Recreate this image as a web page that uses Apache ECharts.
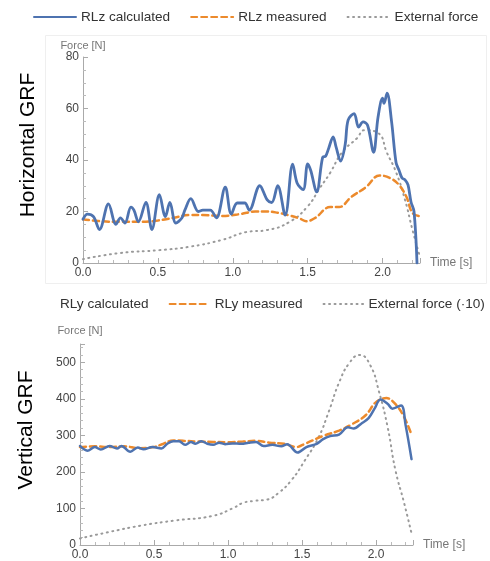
<!DOCTYPE html>
<html>
<head>
<meta charset="utf-8">
<script src="https://cdn.jsdelivr.net/npm/echarts@6/dist/echarts.min.js"></script>
<style>
  html, body { margin: 0; padding: 0; background: #fff; }
  #main { width: 490px; height: 561px; }
</style>
</head>
<body>
<div id="main"></div>
<script>
// Horizontal GRF (top)
var tzCalc = [0.00, 0.03, 0.07, 0.11, 0.17, 0.22, 0.25, 0.28, 0.32, 0.34, 0.37, 0.42, 0.46, 0.51, 0.55, 0.58, 0.62, 0.66, 0.68, 0.72, 0.77, 0.80, 0.85, 0.89, 0.95, 0.99, 1.03, 1.08, 1.11, 1.18, 1.23, 1.26, 1.30, 1.35, 1.40, 1.43, 1.47, 1.50, 1.52, 1.56, 1.60, 1.62, 1.64, 1.67, 1.69, 1.72, 1.75, 1.77, 1.81, 1.84, 1.87, 1.90, 1.94, 1.97, 2.00, 2.01, 2.03, 2.06, 2.09, 2.11, 2.13, 2.15, 2.17, 2.19, 2.21, 2.23];
var rlzCalc = [17, 19, 18, 13, 23, 15, 17.5, 15.5, 21.7, 20.5, 16, 23.5, 13, 26.5, 18, 23.5, 15.5, 17.5, 20.5, 25, 20, 20.5, 20.5, 17.5, 29.5, 19, 23.3, 23.3, 20.5, 30, 24.5, 23.5, 30, 18.6, 38.4, 31, 28.5, 38.5, 36, 27.6, 41, 41.5, 44.5, 49, 45, 39.6, 45.8, 55.5, 58, 52.8, 54.8, 53.5, 43, 56.7, 64, 62, 66, 55, 39, 36, 33, 32.3, 30.3, 23.7, 20, 0];
var tzMeas = [0.00, 0.10, 0.25, 0.40, 0.50, 0.60, 0.71, 0.80, 0.93, 1.05, 1.15, 1.23, 1.30, 1.37, 1.45, 1.49, 1.55, 1.65, 1.71, 1.79, 1.89, 1.98, 2.05, 2.11, 2.16, 2.20, 2.25];
var rlzMeas = [17, 16.3, 16, 16, 16.5, 17.5, 18.6, 18.6, 18.3, 19, 20, 20, 19.5, 18.6, 17.2, 16.2, 17.5, 21.7, 21.7, 25.6, 29.5, 34, 33, 30.3, 25.6, 19.4, 18.2];
var tzExt = [0.00, 0.25, 0.51, 0.71, 0.93, 1.09, 1.23, 1.38, 1.50, 1.58, 1.65, 1.73, 1.83, 1.88, 1.97, 2.03, 2.09, 2.15, 2.20, 2.25];
var extZ = [1.5, 3.9, 5, 6.3, 9, 12, 12.8, 16, 22, 29, 35, 43, 48.5, 51.6, 50.5, 42.7, 35.3, 24.5, 12.8, 2.3];

// Vertical GRF (bottom)
var tyCalc = [0.00, 0.05, 0.10, 0.14, 0.20, 0.25, 0.28, 0.34, 0.39, 0.43, 0.49, 0.55, 0.59, 0.63, 0.67, 0.71, 0.75, 0.78, 0.82, 0.86, 0.90, 0.94, 0.98, 1.03, 1.09, 1.14, 1.19, 1.24, 1.30, 1.36, 1.40, 1.47, 1.53, 1.60, 1.64, 1.69, 1.75, 1.81, 1.85, 1.90, 1.95, 1.99, 2.03, 2.08, 2.11, 2.17, 2.20, 2.24];
var rlyCalc = [271, 258, 268, 261, 271, 264, 271, 255, 267, 262, 268, 264, 277, 284, 284, 274, 282, 277, 284, 277, 274, 280, 276, 278, 277, 280, 282, 271, 274, 270, 276, 253, 268, 277, 289, 298, 302, 322, 319, 332, 347, 373, 398, 386, 373, 382, 328, 235];
var tyMeas = [0.00, 0.10, 0.20, 0.30, 0.40, 0.50, 0.55, 0.63, 0.70, 0.80, 0.90, 1.00, 1.10, 1.19, 1.28, 1.38, 1.46, 1.52, 1.64, 1.75, 1.84, 1.93, 2.00, 2.07, 2.13, 2.19, 2.24];
var rlyMeas = [268, 270, 268, 270, 265, 268, 275, 286, 285, 283, 282, 281, 283, 285, 280, 277, 268, 277, 298, 313, 331, 355, 391, 402, 386, 350, 302];
var tyExt = [0.00, 0.19, 0.41, 0.64, 0.90, 1.04, 1.10, 1.18, 1.26, 1.34, 1.43, 1.52, 1.61, 1.68, 1.75, 1.82, 1.89, 1.96, 2.02, 2.08, 2.13, 2.19, 2.24];
var extY = [18, 35, 53, 67, 80, 102, 115, 121, 124, 142, 178, 232, 293, 364, 444, 498, 520, 493, 420, 320, 207, 115, 32];

var namesTop = ['RLz calculated', 'RLz measured', 'External force'];
var namesBottom = ['RLy calculated', 'RLy measured', 'External force (·10)'];

function pairs(ts, vs) {
  return ts.map(function (t, i) { return [t, vs[i]]; });
}

var blue = '#4e73b0';
var orange = '#ec8a2c';
var grey = '#9a9a9a';
var font = 'Liberation Sans, Arial, sans-serif';

function xAxisFor(gridIndex) {
  return {
    type: 'value', gridIndex: gridIndex, min: 0, max: 2.25, interval: 0.5,
    name: 'Time [s]', nameLocation: 'end', nameGap: 10,
    nameTextStyle: { color: '#777', fontSize: 12, fontFamily: font },
    axisLine: { lineStyle: { color: '#aaa' } },
    axisTick: { inside: true, length: 5, lineStyle: { color: '#aaa' } },
    minorTick: { show: true, splitNumber: 5, length: 3, lineStyle: { color: '#bbb' } },
    splitLine: { show: false },
    axisLabel: {
      color: '#444', fontSize: 12, fontFamily: font, margin: 4, showMaxLabel: false,
      formatter: function (v) { return v.toFixed(1); }
    }
  };
}

function yAxisFor(gridIndex, max, interval, minorSplit, nameGap) {
  return {
    type: 'value', gridIndex: gridIndex, min: 0, max: max, interval: interval,
    name: 'Force [N]', nameLocation: 'end', nameGap: nameGap,
    nameTextStyle: { color: '#777', fontSize: 11, fontFamily: font },
    axisLine: { show: true, lineStyle: { color: '#aaa' } },
    axisTick: { show: true, inside: true, length: 5, lineStyle: { color: '#aaa' } },
    minorTick: { show: true, splitNumber: minorSplit, length: 3, lineStyle: { color: '#bbb' } },
    splitLine: { show: false },
    axisLabel: { color: '#444', fontSize: 12, fontFamily: font, margin: 4, showMaxLabel: max % interval === 0 }
  };
}

function lineSeries(name, xi, data, color, width, type, smooth) {
  return {
    name: name, type: 'line', xAxisIndex: xi, yAxisIndex: xi,
    data: data, symbol: 'none', smooth: smooth, animation: false,
    lineStyle: { color: color, width: width, type: type, cap: 'round' },
    itemStyle: { color: color }
  };
}

var chart = echarts.init(document.getElementById('main'), null, { renderer: 'canvas' });

var legendText = { color: '#333', fontSize: 13.6, fontFamily: font };

var option = {
  backgroundColor: '#fff',
  animation: false,
  legend: [
    {
      data: namesTop, left: 28, top: 5, width: 460, itemWidth: 42, itemHeight: 14, itemGap: 20,
      itemStyle: { opacity: 0 },
      textStyle: legendText
    },
    {
      data: [
        { name: namesBottom[0], icon: 'none', lineStyle: { opacity: 0 }, itemStyle: { opacity: 0 } },
        namesBottom[1], namesBottom[2]
      ],
      left: 10, top: 292, width: 478, itemWidth: 40, itemHeight: 14, itemGap: 20,
      itemStyle: { opacity: 0 },
      textStyle: legendText
    }
  ],
  grid: [
    { left: 83, right: 70, top: 57, bottom: 298 },
    { left: 80, right: 77, top: 344, bottom: 11 }
  ],
  xAxis: [xAxisFor(0), xAxisFor(1)],
  yAxis: [yAxisFor(0, 80, 20, 4, 6), yAxisFor(1, 550, 100, 5, 8)],
  graphic: [
    {
      type: 'rect', silent: true, z: -1,
      shape: { x: 45.5, y: 35.5, width: 441, height: 248 },
      style: { fill: 'none', stroke: '#efefef', lineWidth: 1 }
    },
    {
      type: 'text', x: 28, y: 145, rotation: Math.PI / 2,
      style: { text: 'Horizontal GRF', fill: '#000', fontSize: 21, fontFamily: font, textAlign: 'center', textVerticalAlign: 'middle' }
    },
    {
      type: 'text', x: 26, y: 430, rotation: Math.PI / 2,
      style: { text: 'Vertical GRF', fill: '#000', fontSize: 21, fontFamily: font, textAlign: 'center', textVerticalAlign: 'middle' }
    }
  ],
  series: [
    lineSeries(namesTop[2], 0, pairs(tzExt, extZ), grey, 2, [1, 4.5], true),
    lineSeries(namesTop[1], 0, pairs(tzMeas, rlzMeas), orange, 2.5, [6, 4], 0.4),
    lineSeries(namesTop[0], 0, pairs(tzCalc, rlzCalc), blue, 2.8, 'solid', 0.35),
    lineSeries(namesBottom[2], 1, pairs(tyExt, extY), grey, 2, [1, 4.5], true),
    lineSeries(namesBottom[1], 1, pairs(tyMeas, rlyMeas), orange, 2.5, [6, 4], 0.4),
    lineSeries(namesBottom[0], 1, pairs(tyCalc, rlyCalc), blue, 2.5, 'solid', 0.35)
  ]
};

chart.setOption(option);
</script>
</body>
</html>
